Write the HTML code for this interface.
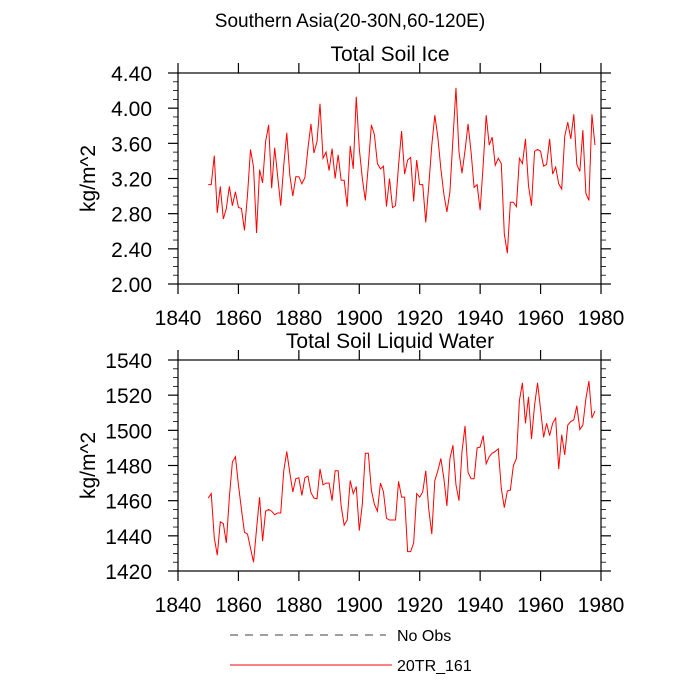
<!DOCTYPE html>
<html><head><meta charset="utf-8"><style>
html,body{margin:0;padding:0;background:#fff;}
svg{display:block;font-family:"Liberation Sans",sans-serif;}
</style></head><body>
<svg id="chart" width="700" height="700" viewBox="0 0 700 700">
<text x="350" y="27" font-size="19" text-anchor="middle">Southern Asia(20-30N,60-120E)</text>
<g id="legend">
<line x1="230" y1="635" x2="386" y2="635" stroke="#000" stroke-width="0.8" stroke-dasharray="8,7"/>
<text x="397" y="641" font-size="16">No Obs</text>
<line x1="230" y1="665" x2="392" y2="665" stroke="#f00" stroke-width="1"/>
<text x="397" y="671" font-size="16">20TR_161</text>
</g>
</svg>
<script>
const startYear = 1850;
const iceValues = [3.13,3.13,3.46,2.81,3.11,2.74,2.86,3.11,2.89,3.05,2.87,2.86,2.61,3.01,3.53,3.33,2.58,3.30,3.15,3.62,3.81,3.09,3.55,3.22,2.89,3.35,3.72,3.24,3.00,3.22,3.22,3.14,3.21,3.54,3.82,3.49,3.62,4.05,3.43,3.50,3.29,3.54,3.20,3.47,3.18,3.18,2.88,3.57,3.31,4.13,3.54,3.20,2.95,3.35,3.81,3.70,3.37,3.31,3.34,2.88,3.20,2.87,2.89,3.35,3.74,3.25,3.41,3.44,2.94,3.41,3.13,3.13,2.70,3.12,3.58,3.92,3.67,3.31,3.02,2.82,3.05,3.65,4.23,3.50,3.26,3.52,3.82,3.50,3.10,3.13,2.84,3.35,3.92,3.58,3.67,3.35,3.43,3.37,2.57,2.35,2.93,2.93,2.88,3.43,3.37,3.65,3.12,2.89,3.51,3.53,3.51,3.34,3.36,3.65,3.25,3.33,3.14,3.08,3.68,3.84,3.65,3.93,3.36,3.28,3.75,3.03,2.95,3.93,3.58];
const waterValues = [1461.5,1464,1439,1429,1448,1447,1436,1462,1482,1485,1469,1455,1442,1441,1433,1425,1444,1462,1437,1454,1455,1454,1452,1453,1453,1477,1488,1476,1465,1472.5,1473,1463,1473,1474,1464.5,1461.5,1461,1478,1469,1470,1470,1460,1477,1477,1457,1446,1449,1471.5,1464,1468,1443,1458,1487,1487,1466,1458,1454,1470,1465,1450,1449,1449,1449,1471,1462,1462,1431,1431,1436,1464,1462,1465,1477,1455,1441,1471.5,1477,1484,1472.5,1457,1484,1491.5,1469,1460,1488,1502.5,1476,1472.5,1472.5,1490,1490.5,1497,1481,1485,1487,1488,1489.5,1467,1456,1465.5,1466,1480,1484,1517,1527,1504,1519,1495,1514,1527,1512,1496,1504,1497,1504,1507,1478,1497.5,1486,1503,1505,1506,1514,1500.5,1503,1518,1528,1507,1511];
const xTicks = [1840,1860,1880,1900,1920,1940,1960,1980];
const iceTicks = ["2.00","2.40","2.80","3.20","3.60","4.00","4.40"];
const waterTicks = ["1420","1440","1460","1480","1500","1520","1540"];

const NS='http://www.w3.org/2000/svg';
const svg=document.getElementById('chart');
function mk(tag,attrs,parent){const e=document.createElementNS(NS,tag);for(const k in attrs)e.setAttribute(k,attrs[k]);(parent||svg).appendChild(e);return e;}

function panel(cfg){
  const L=178,R=601,T=cfg.top,B=cfg.bottom;
  const xs=y=>L+(y-1840)/(1980-1840)*(R-L);
  const ymin=+cfg.ticks[0],ymax=+cfg.ticks[cfg.ticks.length-1];
  const ys=v=>B-(v-ymin)/(ymax-ymin)*(B-T);
  const g=mk('g',{});
  
  
  const t=mk('text',{x:390,y:T-12,'font-size':21,'text-anchor':'middle'},g);
  t.textContent=cfg.title;
  
  
  const fr=mk('rect',{x:L,y:T,width:R-L,height:B-T,fill:'none',stroke:'#000','stroke-width':1.2},g);
  
  
  xTicks.forEach(yr=>{
    const x=xs(yr);
    mk('line',{x1:x,y1:T,x2:x,y2:T-10,stroke:'#000','stroke-width':1.2},g);
    mk('line',{x1:x,y1:B,x2:x,y2:B+10,stroke:'#000','stroke-width':1.2},g);
    const lb=mk('text',{x:x,y:B+41,'font-size':21,'text-anchor':'middle'},g);
    lb.textContent=yr;
    
    
  });
  const nMinor=cfg.minor;
  for(let i=0;i<cfg.ticks.length;i++){
    const v=+cfg.ticks[i],y=ys(v);
    mk('line',{x1:L,y1:y,x2:L-10,y2:y,stroke:'#000','stroke-width':1.2},g);
    mk('line',{x1:R,y1:y,x2:R+10,y2:y,stroke:'#000','stroke-width':1.2},g);
    const lb=mk('text',{x:L-26,y:y+8,'font-size':21,'text-anchor':'end'},g);
    lb.textContent=cfg.ticks[i];
    
    
    if(i<cfg.ticks.length-1){
      const step=(+cfg.ticks[i+1]-v)/(nMinor+1);
      for(let k=1;k<=nMinor;k++){const yy=ys(v+k*step);
        mk('line',{x1:L,y1:yy,x2:L-5,y2:yy,stroke:'#000','stroke-width':0.8},g);
        mk('line',{x1:R,y1:yy,x2:R+5,y2:yy,stroke:'#000','stroke-width':0.8},g);}
    }
  }
  const yt=mk('text',{x:0,y:0,'font-size':21,'text-anchor':'middle',transform:`translate(95,${(T+B)/2}) rotate(-90)`},g);
  yt.textContent='kg/m^2';
  
  
  const pts=cfg.values.map((v,i)=>xs(startYear+i).toFixed(2)+','+ys(v).toFixed(2)).join(' ');
  const pl=mk('polyline',{points:pts,fill:'none',stroke:'#f00','stroke-width':1},g);
  
  
}
panel({name:'soil-ice',title:'Total Soil Ice',top:73,bottom:284,ticks:iceTicks,values:iceValues,minor:3});
panel({name:'soil-liquid-water',title:'Total Soil Liquid Water',top:360,bottom:571,ticks:waterTicks,values:waterValues,minor:3});
</script>
</body></html>
